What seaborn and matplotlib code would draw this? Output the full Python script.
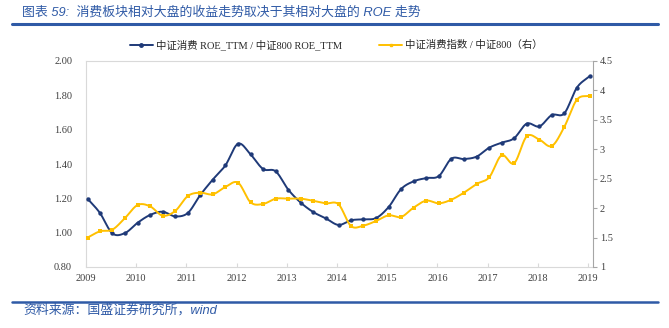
import numpy as np
import pandas as pd
import matplotlib
matplotlib.use("Agg")
import matplotlib.pyplot as plt
import matplotlib.dates as mdates
from matplotlib.lines import Line2D
import seaborn as sns

# ---------------- data ----------------
dates = pd.date_range("2009-01-12", periods=41, freq=pd.DateOffset(months=3))
roe_ratio = [1.198, 1.115, 0.996, 0.998, 1.058, 1.103, 1.122, 1.095, 1.115, 1.219,
             1.309, 1.392, 1.518, 1.456, 1.371, 1.357, 1.250, 1.175, 1.120, 1.083,
             1.045, 1.072, 1.078, 1.085, 1.150, 1.254, 1.299, 1.318, 1.330, 1.431,
             1.429, 1.443, 1.495, 1.524, 1.550, 1.635, 1.619, 1.685, 1.695, 1.845,
             1.911]
price_ratio = [1.499, 1.606, 1.635, 1.833, 2.054, 2.031, 1.873, 1.952, 2.207, 2.263,
               2.235, 2.360, 2.433, 2.099, 2.071, 2.161, 2.161, 2.161, 2.125, 2.082,
               2.065, 1.697, 1.703, 1.782, 1.878, 1.850, 2.009, 2.127, 2.082, 2.144,
               2.263, 2.411, 2.524, 2.898, 2.762, 3.220, 3.164, 3.056, 3.379, 3.843,
               3.911]
year_labels = [str(y) for y in range(2009, 2020)]
left_ticks = [0.80, 1.00, 1.20, 1.40, 1.60, 1.80, 2.00]
right_ticks = [1, 1.5, 2, 2.5, 3, 3.5, 4, 4.5]
series_names = ["中证消费 ROE_TTM / 中证800 ROE_TTM", "中证消费指数 / 中证800（右）"]
title = "图表 59:  消费板块相对大盘的收益走势取决于其相对大盘的 ROE 走势"
source = "资料来源：国盛证券研究所，wind"

BLUE = "#1f3a78"
YELLOW = "#ffc000"
HEAD = "#2f5aa6"

sns.set_style("white")
plt.rcParams["font.family"] = ["Liberation Serif", "Noto Sans CJK SC", "DejaVu Sans"]


def smooth(x, y, n=20):
    """Catmull-Rom smoothing for drawing (Excel-like smoothed line)."""
    x = np.asarray(x, float)
    y = np.asarray(y, float)
    px = np.concatenate([[2 * x[0] - x[1]], x, [2 * x[-1] - x[-2]]])
    py = np.concatenate([[2 * y[0] - y[1]], y, [2 * y[-1] - y[-2]]])
    t = np.linspace(0, 1, n, endpoint=False)
    outx, outy = [], []
    for i in range(1, len(px) - 2):
        for arr, out in ((px, outx), (py, outy)):
            p0, p1, p2, p3 = arr[i - 1], arr[i], arr[i + 1], arr[i + 2]
            out.append(0.5 * (2 * p1 + (-p0 + p2) * t + (2 * p0 - 5 * p1 + 4 * p2 - p3) * t ** 2
                              + (-p0 + 3 * p1 - 3 * p2 + p3) * t ** 3))
    return np.concatenate(outx + [[x[-1]]]), np.concatenate(outy + [[y[-1]]])


W, H = 669, 328
fig = plt.figure(figsize=(W / 100, H / 100), dpi=100)
ax = fig.add_axes([86 / W, 1 - 267 / H, (593 - 86) / W, (267 - 61) / H])
ax2 = ax.twinx()

xn = mdates.date2num(dates)
sx, sy = smooth(xn, roe_ratio)
sns.lineplot(x=sx, y=sy, ax=ax, color=BLUE, lw=1.4, sort=False, estimator=None)
sns.scatterplot(x=xn, y=roe_ratio, ax=ax, color=BLUE, s=10, linewidth=0, zorder=3)

sx2, sy2 = smooth(xn, price_ratio)
sns.lineplot(x=sx2, y=sy2, ax=ax2, color=YELLOW, lw=1.4, sort=False, estimator=None)
sns.scatterplot(x=xn, y=price_ratio, ax=ax2, color=YELLOW, s=6, marker="s", linewidth=0, zorder=3)

year_pos = mdates.date2num(pd.to_datetime([f"{y}-01-01" for y in year_labels]))
ax.set_xlim(year_pos[0], mdates.date2num(pd.Timestamp("2019-02-06")))
ax.set_ylim(0.8, 2.0)
ax2.set_ylim(1, 4.5)
ax.set_xticks(year_pos)
ax.set_xticklabels(year_labels)
ax.set_yticks(left_ticks)
ax.set_yticklabels([f"{v:.2f}" for v in left_ticks])
ax2.set_yticks(right_ticks)
ax2.set_yticklabels([f"{v:g}" for v in right_ticks])
ax.set_xlabel("")
ax.set_ylabel("")
ax2.set_ylabel("")

for s in ["top", "left", "bottom"]:
    ax.spines[s].set_color("#d9d9d9")
    ax.spines[s].set_linewidth(0.8)
    ax.spines[s].set_visible(True)
ax.spines["right"].set_visible(False)
for s in ["top", "left", "bottom"]:
    ax2.spines[s].set_visible(False)
ax2.spines["right"].set_color("#a6a6a6")
ax2.spines["right"].set_linewidth(0.8)

ax.tick_params(axis="y", left=False, length=0, pad=10, labelsize=7.5, labelcolor="#404040")
ax.tick_params(axis="x", bottom=True, direction="in", length=3, color="#d9d9d9", pad=5,
               labelsize=7.5, labelcolor="#404040")
ax2.tick_params(axis="y", right=True, direction="out", length=3, color="#a6a6a6", pad=2,
                labelsize=7.5, labelcolor="#404040")
ax.grid(False)
ax2.grid(False)

handles = [Line2D([], [], color=BLUE, lw=1.4, marker="o", markersize=2.5),
           Line2D([], [], color=YELLOW, lw=1.4, marker="s", markersize=2)]
ax2.legend(handles, series_names, loc="center", bbox_to_anchor=(0.503, 1 - 45 / H),
           bbox_transform=fig.transFigure, ncol=2, frameon=False, fontsize=7.5,
           handlelength=2.2, handletextpad=0.3, columnspacing=3.6)

fig.text(22 / W, 1 - 12 / H, title, color=HEAD, fontsize=9.3, va="center", ha="left",
         family=["Liberation Sans", "Noto Sans CJK SC"], style="italic")
fig.add_artist(Line2D([12 / W, 658 / W], [1 - 24 / H] * 2, color=HEAD, lw=2.2))
fig.add_artist(Line2D([12 / W, 658 / W], [1 - 302 / H] * 2, color=HEAD, lw=1.8))
fig.text(23 / W, 1 - 310 / H, source, color=HEAD, fontsize=9.3, va="center", ha="left",
         family=["Liberation Sans", "Noto Sans CJK SC"], style="italic")

fig.savefig("out.png", dpi=100)
